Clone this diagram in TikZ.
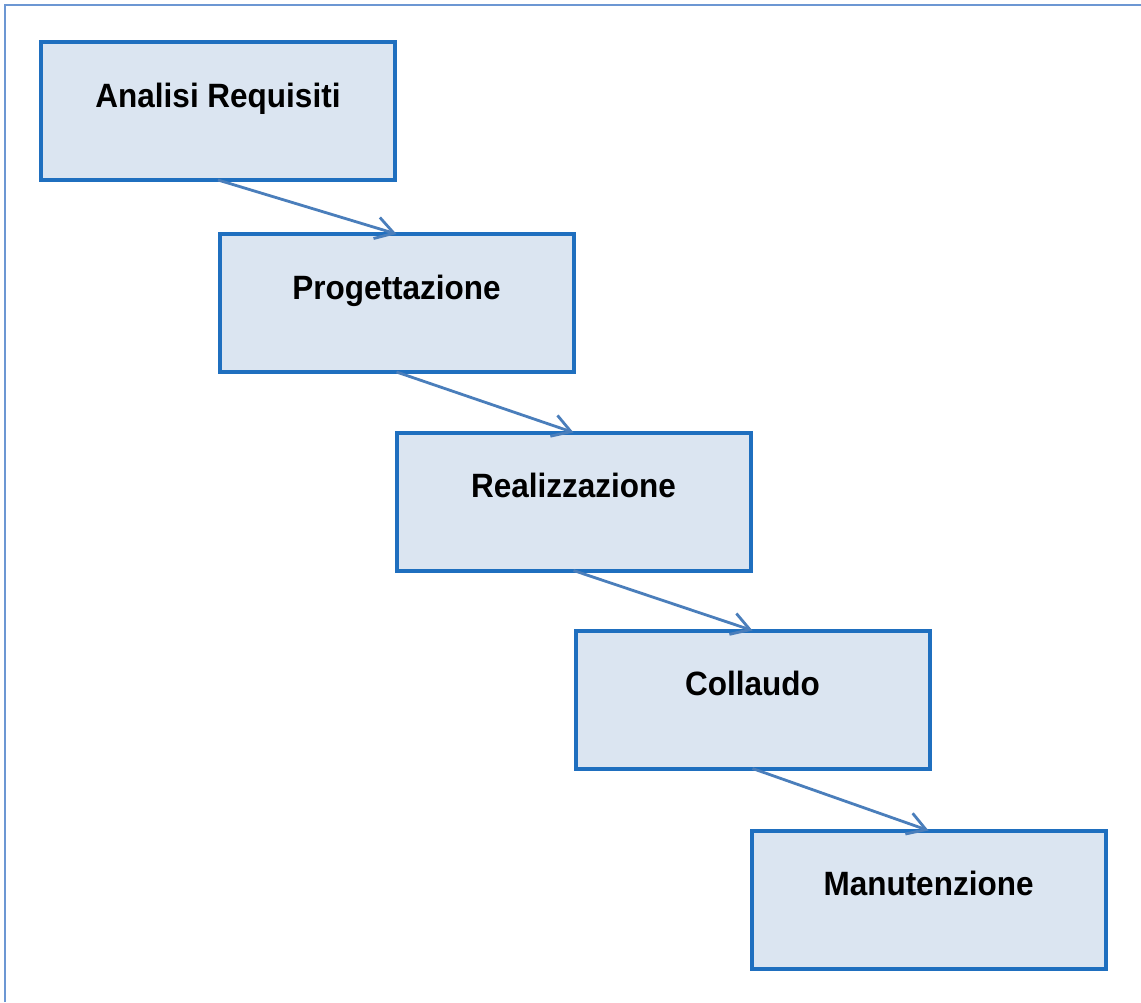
\documentclass[tikz,border=0pt]{standalone}
\usepackage{fontspec}
\usepackage{graphicx}
\setmainfont{Liberation Sans}
\usetikzlibrary{arrows.meta}
\definecolor{boxline}{HTML}{1F6FBF}
\definecolor{boxfill}{HTML}{DBE5F1}
\definecolor{arrowc}{HTML}{4A7EBB}
\definecolor{framec}{HTML}{6C97D3}
\newcommand{\phaselabel}[1]{\scalebox{1}[1.07]{#1}}
\tikzset{
  phase/.style={draw=boxline, fill=boxfill, line width=4pt, minimum width=354pt, minimum height=138pt, inner sep=0pt, outer sep=0pt},
  phasetext/.style={font=\fontsize{31.5}{36}\selectfont\bfseries, anchor=base, inner sep=0pt},
  flow/.style={draw=arrowc, line width=2.8pt, -{Straight Barb[length=18pt,width=22pt,line width=2.8pt]}}
}
\begin{document}
\begin{tikzpicture}[x=1pt,y=-1pt]
\useasboundingbox (0,0) rectangle (1141,1002);
\fill[white] (0,0) rectangle (1141,1002);
\coordinate (fa) at (5,1002);
\coordinate (fb) at (5,5);
\coordinate (fc) at (1141,5);
\draw[framec, line width=2pt] (fa) -- (fb) -- (fc);
\node[phase] (b1) at (218,111) {};
\node[phase] (b2) at (396.5,303) {};
\node[phase] (b3) at (573.5,501.5) {};
\node[phase] (b4) at (752.5,699.5) {};
\node[phase] (b5) at (928.5,899.5) {};
\node[phasetext] (t1) at ([yshift=-65pt]b1.north) {\phaselabel{Analisi Requisiti}};
\node[phasetext] (t2) at ([yshift=-65pt]b2.north) {\phaselabel{Progettazione}};
\node[phasetext] (t3) at ([yshift=-65pt]b3.north) {\phaselabel{Realizzazione}};
\node[phasetext] (t4) at ([yshift=-65pt]b4.north) {\phaselabel{Collaudo}};
\node[phasetext] (t5) at ([yshift=-65pt]b5.north) {\phaselabel{Manutenzione}};
\draw[flow] (b1.south) -- (b2.north);
\draw[flow] (b2.south) -- (b3.north);
\draw[flow] (b3.south) -- (b4.north);
\draw[flow] (b4.south) -- (b5.north);
\end{tikzpicture}
\end{document}
